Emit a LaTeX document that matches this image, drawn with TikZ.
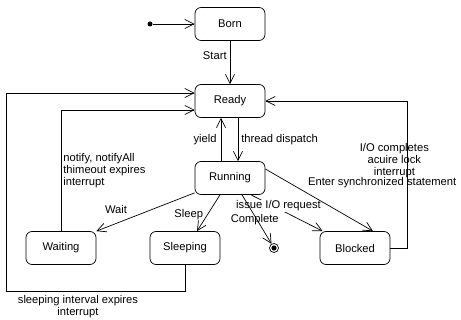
\documentclass[tikz,border=0pt]{standalone}
\usepackage{fontspec}
\setmainfont{Liberation Sans}
\usetikzlibrary{arrows.meta}

\begin{document}
\begin{tikzpicture}[x=1pt,y=-1pt,line width=0.7pt,
  every node/.style={font=\fontsize{11.2}{12}\selectfont},
  state/.style={draw,rounded corners=6pt,minimum width=70pt,minimum height=33pt,inner sep=0pt},
  initial/.style={circle,fill,minimum size=5pt,inner sep=0pt},
  final/.style={circle,draw,minimum size=9pt,inner sep=0pt,
    path picture={\fill (path picture bounding box.center) circle (2.6pt);}},
  trans/.style={draw,-{Straight Barb[length=9pt,width=9pt,line width=0.7pt]}},
  lbl/.style={inner sep=1pt}]
\useasboundingbox (0,0) rectangle (461,320);

\node[initial] (start) at (150,24) {};
\node[state] (born) at (230,24) {Born};
\node[state] (ready) at (230,101) {Ready};
\node[state] (running) at (230,178) {Running};
\node[state] (waiting) at (61,248) {Waiting};
\node[state] (sleeping) at (185,248) {Sleeping};
\node[state] (blocked) at (355,248) {Blocked};
\node[final] (end) at (274,248) {};

\draw[trans] (start) -- (born);
\draw[trans] (born) -- node[lbl,left=2pt,pos=0.35] {Start} (ready);
\draw[trans] ([xshift=8pt]ready.south) -- node[lbl,right=2pt] {thread dispatch} ([xshift=8pt]running.north);
\draw[trans] ([xshift=-9pt]running.north) -- node[lbl,left=3pt] {yield} ([xshift=-9pt]ready.south);

\draw[trans] ([yshift=2pt]running.south west) -- node[lbl,pos=0.8,above=9pt] {Wait} (waiting.north east);
\draw[trans] ([xshift=-10pt]running.south) -- node[lbl,pos=0.55,left=3pt] {Sleep} ([xshift=12pt]sleeping.north);
\draw[trans] ([xshift=21pt]running.south) -- node[lbl,pos=0.3,fill=white,xshift=6pt] {issue I/O request} ([xshift=3pt]blocked.north west);
\draw[trans] ([xshift=12pt]running.south) -- node[lbl,pos=0.5,xshift=-2pt] {Complete} (end);
\draw[trans] ([yshift=9pt]running.east) -- node[lbl,xshift=63pt,yshift=17pt] {Enter synchronized statement} ([xshift=18pt]blocked.north);

\draw[trans] (blocked.east) -- ++(17,0) |- node[lbl,pos=0.296,xshift=-13pt,align=center] {I/O completes\\acuire lock\\interrupt} (ready.east);
\draw[trans] (waiting.north) |- node[lbl,pos=0.248,right=1pt,align=left] {notify, notifyAll\\thimeout expires\\interrupt} ([yshift=-9pt]ready.west);
\draw[trans] (sleeping.south) -- ++(0,27) -| node[lbl,pos=0.3,below=2pt,align=center] {sleeping interval expires\\interrupt} ([xshift=-188pt,yshift=8pt]ready.west) -- ([yshift=8pt]ready.west);
\end{tikzpicture}
\end{document}
